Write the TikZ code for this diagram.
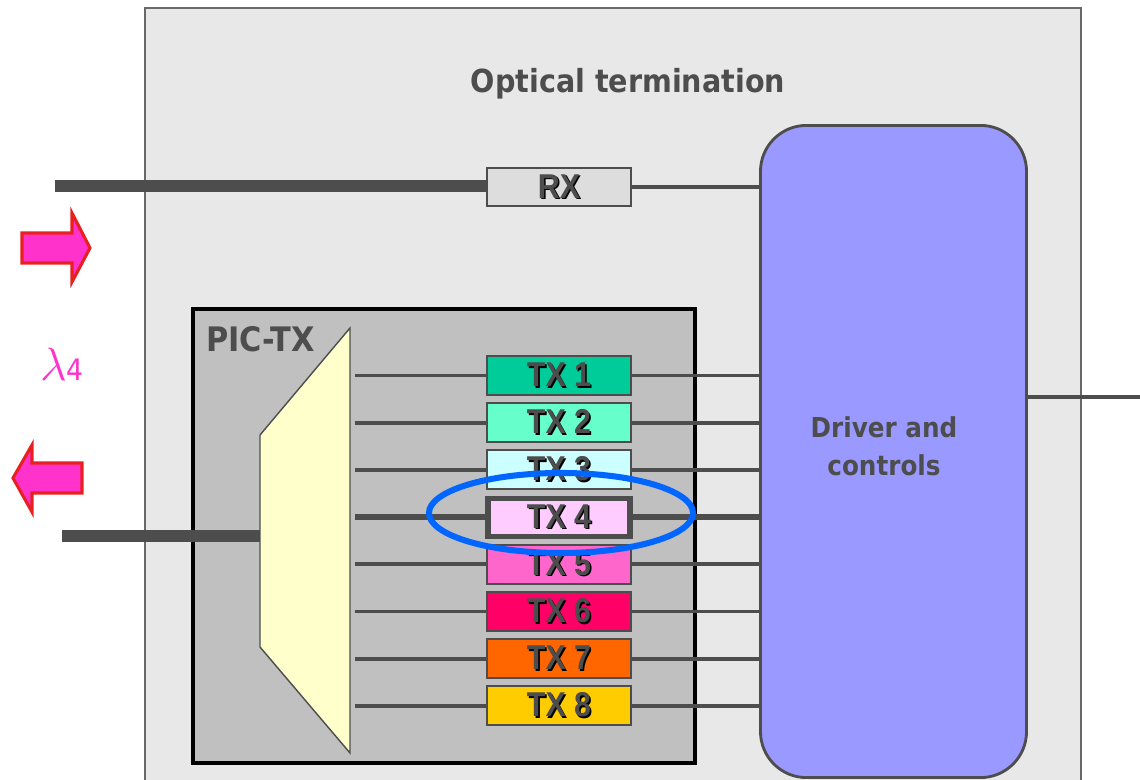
\documentclass[tikz,border=0pt]{standalone}
\usepackage{fontspec}
\setmainfont{Liberation Sans}
\newfontfamily\tahoma[FakeStretch=0.9]{DejaVu Sans}
\newfontfamily\txfont[FakeStretch=0.88]{Liberation Sans}
\usepackage{xcolor}
\usepackage{tikz}
\usetikzlibrary{positioning}

\definecolor{ink}{HTML}{4D4D4D}
\definecolor{shell}{HTML}{E8E8E8}
\definecolor{chip}{HTML}{C0C0C0}
\definecolor{rxgray}{HTML}{DDDDDD}
\definecolor{driver}{HTML}{9999FF}
\definecolor{muxfill}{HTML}{FFFFCC}
\definecolor{lampink}{HTML}{FF33CC}
\definecolor{arrowred}{HTML}{E82020}
\definecolor{ringblue}{HTML}{0066FF}
\definecolor{txa}{HTML}{00CC99}
\definecolor{txb}{HTML}{66FFCC}
\definecolor{txc}{HTML}{CCFFFF}
\definecolor{txd}{HTML}{FFCCFF}
\definecolor{txe}{HTML}{FF66CC}
\definecolor{txf}{HTML}{FF0066}
\definecolor{txg}{HTML}{FF6600}
\definecolor{txh}{HTML}{FFCC00}

\newcommand{\shadowed}[1]{\makebox[0pt][l]{\hspace{1.1pt}\raisebox{-1.1pt}{\color{black}#1}}#1}

\tikzset{
  txbox/.style={draw=ink, line width=1.4pt, minimum width=3.6cm, minimum height=0.975cm,
    inner sep=0pt, text=ink, font=\txfont\bfseries\fontsize{24.5}{26}\selectfont},
  fiber/.style={draw=ink, line width=8pt},
  wire/.style={draw=ink, line width=2.6pt},
  heading/.style={text=ink, font=\tahoma\bfseries\fontsize{22.6}{26}\selectfont},
  fatarrow/.style={fill=lampink, draw=arrowred, line width=2.2pt}
}

\begin{document}
\begin{tikzpicture}[x=0.025cm, y=-0.025cm]
  \useasboundingbox (0,0) rectangle (1140,780);
  \clip (0,0) rectangle (1140,780);
  % optical termination shell
  \draw[fill=shell, draw=ink!85, line width=1.5pt] (145,8) rectangle (1081,820);
  \node[heading] (title) at (628,84) {Optical termination};
  % PIC-TX chip
  \draw[fill=chip, draw=black, line width=3.5pt] (193,309) rectangle (695,763);
  \node[heading, anchor=north west, inner sep=0pt, font=\tahoma\bfseries\fontsize{24}{26}\selectfont] (pic) at (206,326) {PIC-TX};

  % driver and controls
  \node[draw=ink, line width=2pt, fill=driver, rounded corners=1.15cm,
        minimum width=6.65cm, minimum height=16.3cm] (drv) at (893.5,451.5) {};
  \node[text=ink, align=center, font=\tahoma\bfseries\fontsize{19.5}{27}\selectfont] (drvtext) at (884,446) {Driver and\\controls};
  \coordinate (out) at (1140,397);
  \draw[wire] (out -| drv.east) -- (out);

  % receiver
  \node[txbox, fill=rxgray, minimum height=0.95cm] (rx) at (559,187) {\shadowed{RX}};
  \coordinate (fibin) at (55,186);
  \draw[fiber] (fibin) -- (fibin -| rx.west);
  \draw[wire] (rx.east) -- (rx.east -| drv.west);

  % transmitters
  \node[txbox, fill=txa] (tx1) at (559,375.5) {\shadowed{TX 1}};
  \node[txbox, fill=txb] (tx2) at (559,422.7) {\shadowed{TX 2}};
  \node[txbox, fill=txc] (tx3) at (559,469.9) {\shadowed{TX 3}};
  \node[txbox, fill=txe] (tx5) at (559,564.3) {\shadowed{TX 5}};
  \node[txbox, fill=txf] (tx6) at (559,611.5) {\shadowed{TX 6}};
  \node[txbox, fill=txg] (tx7) at (559,658.7) {\shadowed{TX 7}};
  \node[txbox, fill=txh] (tx8) at (559,705.9) {\shadowed{TX 8}};
  \node[txbox, fill=txd, line width=3.6pt, minimum width=3.55cm, minimum height=0.95cm] (tx4) at (559,517.1) {\shadowed{TX 4}};

  \coordinate (muxr) at (355,0);
  \draw[wire] (tx1.west -| muxr) -- (tx1.west);  \draw[wire] (tx1.east) -- (tx1.east -| drv.west);
  \draw[wire] (tx2.west -| muxr) -- (tx2.west);  \draw[wire] (tx2.east) -- (tx2.east -| drv.west);
  \draw[wire] (tx3.west -| muxr) -- (tx3.west);  \draw[wire] (tx3.east) -- (tx3.east -| drv.west);
  \draw[wire, line width=4.3pt] (tx4.west -| muxr) -- (tx4.west);
  \draw[wire, line width=4.3pt] (tx4.east) -- (tx4.east -| drv.west);
  \draw[wire] (tx5.west -| muxr) -- (tx5.west);  \draw[wire] (tx5.east) -- (tx5.east -| drv.west);
  \draw[wire] (tx6.west -| muxr) -- (tx6.west);  \draw[wire] (tx6.east) -- (tx6.east -| drv.west);
  \draw[wire] (tx7.west -| muxr) -- (tx7.west);  \draw[wire] (tx7.east) -- (tx7.east -| drv.west);
  \draw[wire] (tx8.west -| muxr) -- (tx8.west);  \draw[wire] (tx8.east) -- (tx8.east -| drv.west);

  % multiplexer
  \coordinate (fibout) at (62,536);
  \coordinate (muxin) at (260,536);
  \draw[fiber] (fibout) -- (muxin);
  \draw[fill=muxfill, draw=ink, line width=1pt] (260,435) -- (350,328) -- (350,753) -- (260,647) -- cycle;

  % highlight on TX 4
  \draw[ringblue, line width=4.3pt] (561,513) ellipse [x radius=3.3cm, y radius=1cm];

  % direction arrows and wavelength
  \draw[fatarrow] (22,233) -- (72,233) -- (72,213) -- (90,248) -- (72,282) -- (72,263) -- (22,263) -- cycle;
  \draw[fatarrow] (82,463) -- (32,463) -- (32,445) -- (13,478) -- (32,512) -- (32,493) -- (82,493) -- cycle;
  \node[text=lampink, font=\fontsize{21}{24}\selectfont, inner sep=0pt] (lam) at (62,364) {\scalebox{1.6}{$\lambda$}\tahoma 4};
\end{tikzpicture}
\end{document}
